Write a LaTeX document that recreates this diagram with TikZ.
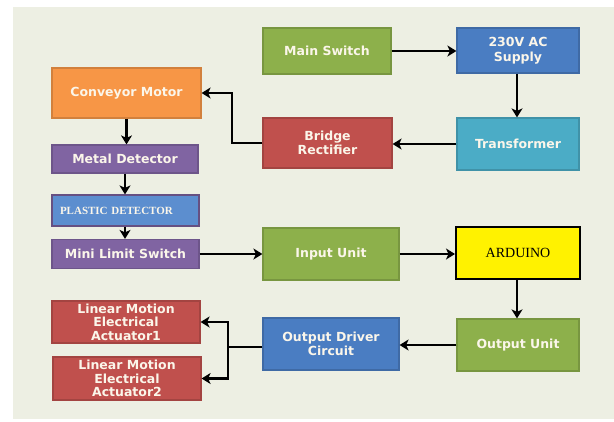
\documentclass[tikz,border=0pt]{standalone}
\usepackage{fontspec}
\setmainfont{DejaVu Sans}
\newfontfamily\serifbox{Liberation Serif}
\usetikzlibrary{arrows.meta,calc}
\definecolor{bgc}{HTML}{EDEFE3}
\definecolor{cgreen}{HTML}{8DB04B}
\definecolor{cblue}{HTML}{4A7DC2}
\definecolor{corange}{HTML}{F79646}
\definecolor{cred}{HTML}{C0504D}
\definecolor{ccyan}{HTML}{4BACC6}
\definecolor{cpurple}{HTML}{8064A2}
\definecolor{cplastic}{HTML}{5C8ECF}
\definecolor{ctext}{HTML}{FBF6EA}
\tikzset{
  blk/.style={rectangle, minimum width=#1, inner sep=0pt, align=center,
    text=ctext, font=\fontsize{12.5}{14.5}\selectfont\bfseries, line width=1.2pt},
  arr/.style={line width=2.4pt, -{Stealth[length=9pt,width=11pt,inset=2.5pt]}},
  ln/.style={line width=2.4pt}
}
\begin{document}
\begin{tikzpicture}[x=1pt,y=-1pt]
\useasboundingbox (0,0) rectangle (614,421);
\fill[white] (0,0) rectangle (614,421);
\fill[bgc] (13,7) rectangle (614,419);
\node[blk=128pt, minimum height=46pt, fill=cgreen, draw=cgreen!85!black] (main) at (327,51) {Main Switch};
\node[blk=122pt, minimum height=45pt, fill=cblue, draw=cblue!85!black] (ac) at (518,50.5) {230V AC\\Supply};
\node[blk=149pt, minimum height=50pt, fill=corange, draw=corange!85!black] (conv) at (126.5,93) {Conveyor Motor};
\node[blk=129pt, minimum height=50pt, fill=cred, draw=cred!85!black] (bridge) at (327.5,143) {Bridge\\Rectifier};
\node[blk=122pt, minimum height=52pt, fill=ccyan, draw=ccyan!85!black] (trans) at (518,144) {Transformer};
\node[blk=146pt, minimum height=28pt, fill=cpurple, draw=cpurple!85!black] (metal) at (125,159) {Metal Detector};
\node[blk=147pt, minimum height=31pt, fill=cplastic, draw=cpurple!80!black, text width=131pt, align=left,
  font=\serifbox\fontsize{11}{12}\selectfont\bfseries] (plastic) at (125.5,210.5) {PLASTIC DETECTOR};
\node[blk=147pt, minimum height=29pt, fill=cpurple, draw=cpurple!85!black] (mini) at (125.5,254) {Mini Limit Switch};
\node[blk=136pt, minimum height=52pt, fill=cgreen, draw=cgreen!85!black] (input) at (331,254) {Input Unit};
\node[blk=124pt, minimum height=52pt, fill=yellow, draw=black, line width=2pt, text=black,
  font=\serifbox\fontsize{14}{16}\selectfont] (ard) at (518,253) {ARDUINO};
\node[blk=148pt, minimum height=42pt, fill=cred, draw=cred!85!black, font=\fontsize{12.5}{13.5}\selectfont\bfseries] (lin1) at (126,322) {Linear Motion\\Electrical\\Actuator1};
\node[blk=148pt, minimum height=43pt, fill=cred, draw=cred!85!black, font=\fontsize{12.5}{13.5}\selectfont\bfseries] (lin2) at (127,378.5) {Linear Motion\\Electrical\\Actuator2};
\node[blk=136pt, minimum height=52pt, fill=cblue, draw=cblue!85!black] (drv) at (331,344) {Output Driver\\Circuit};
\node[blk=122pt, minimum height=52pt, fill=cgreen, draw=cgreen!85!black] (out) at (518,345) {Output Unit};
\coordinate (bj) at (232,143);
\coordinate (dj) at (228,347);
% connectors
\draw[arr] (main.east) -- (main.east -| ac.west);
\draw[arr] ([xshift=-1pt]ac.south) -- ([xshift=-1pt]ac.south |- trans.north);
\draw[arr] (trans.west) -- (trans.west -| bridge.east);
\draw[arr] (bridge.west) -- (bj) |- (conv.east);
\draw[arr] (conv.south) -- (conv.south |- metal.north);
\draw[arr] (metal.south) -- (metal.south |- plastic.north);
\draw[arr] (plastic.south -| metal.south) -- (metal.south |- mini.north);
\draw[arr] (mini.east) -- (mini.east -| input.west);
\draw[arr] (input.east) -- (input.east -| ard.west);
\draw[arr] ([xshift=-1pt]ard.south) -- ([xshift=-1pt]ard.south |- out.north);
\draw[arr] (out.west) -- (out.west -| drv.east);
\draw[ln] (drv.west |- dj) -- (dj);
\draw[arr] (dj) |- (lin1.east);
\draw[arr] (dj) |- (lin2.east);
\end{tikzpicture}
\end{document}
